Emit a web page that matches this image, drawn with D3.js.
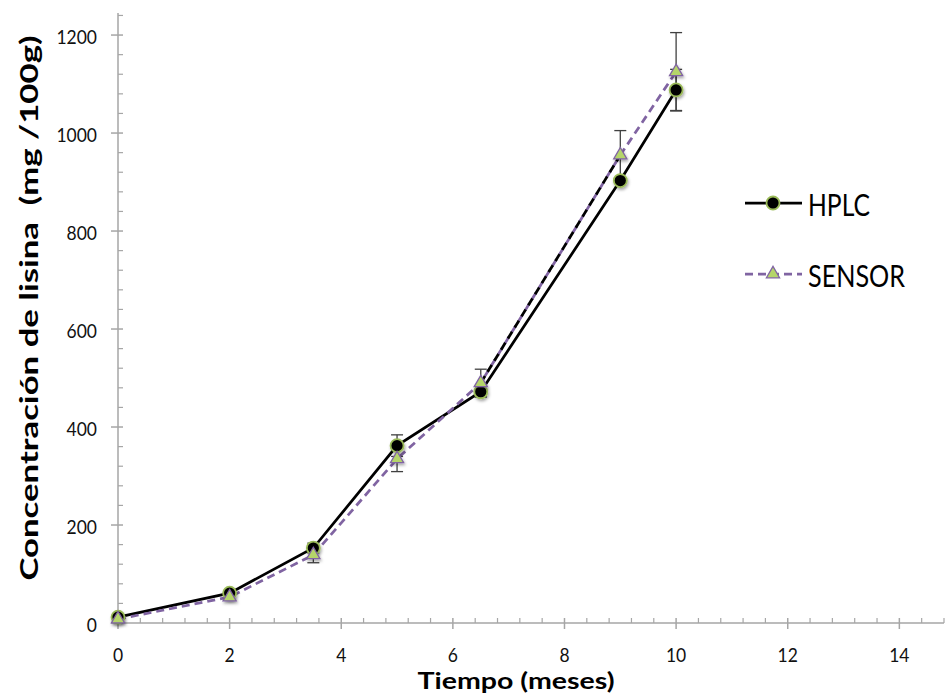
<!DOCTYPE html>
<html>
<head>
<meta charset="utf-8">
<script src="https://cdn.jsdelivr.net/npm/d3@7"></script>
<style>
  body { margin: 0; background: #fff; }
  svg { display: block; }
  text { font-family: Lato, "Open Sans", sans-serif; white-space: pre; }
</style>
</head>
<body>
<svg id="chart" width="945" height="696"></svg>
<script>
// ---- data ----
const months = [0, 2, 3.5, 5, 6.5, 9, 10];
const hplc = [12, 61, 153, 362, 472, 903, 1088];
const hplcErr = [0, 0, 10, 22, 11, 0, 42];
const sensor = [8, 53, 139, 335, 490, 955, 1125];
const sensorErr = [0, 0, 16, 26, 28, 50, 80];
const xTicks = [0, 2, 4, 6, 8, 10, 12, 14];
const yTicks = [0, 200, 400, 600, 800, 1000, 1200];
const seriesNames = ["HPLC", "SENSOR"];
const xTitle = "Tiempo (meses)";
const yTitle = "Concentración de lisina  (mg /100g)";

const svg = d3.select("#chart");
const x = d3.scaleLinear().domain([0, 14.8]).range([118, 944]);
const y = d3.scaleLinear().domain([0, 1245]).range([623, 13]);

const axisColor = "#a6a6a6";
const defs = svg.append("defs");
const f = defs.append("filter").attr("id", "shadow").attr("x", "-50%").attr("y", "-50%").attr("width", "200%").attr("height", "200%");
f.append("feDropShadow").attr("dx", 1).attr("dy", 2).attr("stdDeviation", 1.5).attr("flood-color", "#000").attr("flood-opacity", 0.35);

// ---- axes ----
const xMinor = d3.range(0, 14.81, 0.4).filter(v => Math.abs(v / 2 - Math.round(v / 2)) > 1e-6);
const yMinor = d3.range(0, 1241, 40).filter(v => v % 200 !== 0);

const gx = svg.append("g");
gx.append("line").attr("x1", x(0)).attr("x2", x(14.8)).attr("y1", y(0)).attr("y2", y(0))
  .attr("stroke", axisColor).attr("stroke-width", 1.5);
gx.selectAll(".xmaj").data(xTicks).join("line")
  .attr("x1", d => x(d)).attr("x2", d => x(d)).attr("y1", y(0) - 5).attr("y2", y(0) + 6)
  .attr("stroke", axisColor).attr("stroke-width", 1.5);
gx.selectAll(".xmin").data(xMinor).join("line")
  .attr("x1", d => x(d)).attr("x2", d => x(d)).attr("y1", y(0) - 5).attr("y2", y(0))
  .attr("stroke", axisColor).attr("stroke-width", 1.2);
gx.selectAll(".xl").data(xTicks).join("text")
  .attr("transform", d => `translate(${x(d)},662) scale(1,1.15)`).attr("text-anchor", "middle")
  .attr("font-size", 17.5).attr("fill", "#111").text(d => d);

const gy = svg.append("g");
gy.append("line").attr("x1", x(0)).attr("x2", x(0)).attr("y1", y(0)).attr("y2", y(1245))
  .attr("stroke", axisColor).attr("stroke-width", 1.5);
gy.selectAll(".ymaj").data(yTicks).join("line")
  .attr("x1", x(0) - 7).attr("x2", x(0) + 5).attr("y1", d => y(d)).attr("y2", d => y(d))
  .attr("stroke", axisColor).attr("stroke-width", 1.5);
gy.selectAll(".ymin").data(yMinor).join("line")
  .attr("x1", x(0)).attr("x2", x(0) + 5).attr("y1", d => y(d)).attr("y2", d => y(d))
  .attr("stroke", axisColor).attr("stroke-width", 1.2);
gy.selectAll(".yl").data(yTicks).join("text")
  .attr("transform", d => `translate(97,${y(d) + 9}) scale(1,1.15)`).attr("text-anchor", "end")
  .attr("font-size", 17.5).attr("fill", "#111").text(d => d);

// titles
svg.append("text").attr("x", 516).attr("y", 689).attr("text-anchor", "middle")
  .attr("font-size", 23.5).attr("font-weight", "bold").attr("fill", "#000")
  .attr("textLength", 197).attr("lengthAdjust", "spacingAndGlyphs").text(xTitle);
svg.append("text").attr("transform", "translate(38,308) rotate(-90)").attr("text-anchor", "middle")
  .attr("font-size", 24).attr("font-weight", "bold").attr("fill", "#000")
  .attr("textLength", 545).attr("lengthAdjust", "spacingAndGlyphs").text(yTitle);

// ---- lines ----
const hData = months.map((m, i) => ({ m, v: hplc[i], e: hplcErr[i] }));
const sData = months.map((m, i) => ({ m, v: sensor[i], e: sensorErr[i] }));
const line = d3.line().x(d => x(d.m)).y(d => y(d.v));

svg.append("path").datum(hData).attr("d", line).attr("fill", "none")
  .attr("stroke", "#000").attr("stroke-width", 2.75);
svg.append("path").datum(sData).attr("d", line).attr("fill", "none")
  .attr("stroke", "#8064a2").attr("stroke-width", 2.75).attr("stroke-dasharray", "8,5");
// segment drawn in black dashes in the original
svg.append("path").datum(sData.slice(4, 6)).attr("d", line).attr("fill", "none")
  .attr("stroke", "#000").attr("stroke-width", 2.75).attr("stroke-dasharray", "8,5");

// ---- error bars ----
function errBars(data) {
  const g = svg.append("g").attr("stroke", "#404040").attr("stroke-width", 1.3);
  const dd = data.filter(d => d.e > 0);
  g.selectAll(".v").data(dd).join("line")
    .attr("x1", d => x(d.m)).attr("x2", d => x(d.m)).attr("y1", d => y(d.v - d.e)).attr("y2", d => y(d.v + d.e));
  g.selectAll(".t").data(dd).join("line")
    .attr("x1", d => x(d.m) - 6).attr("x2", d => x(d.m) + 6).attr("y1", d => y(d.v + d.e)).attr("y2", d => y(d.v + d.e));
  g.selectAll(".b").data(dd).join("line")
    .attr("x1", d => x(d.m) - 6).attr("x2", d => x(d.m) + 6).attr("y1", d => y(d.v - d.e)).attr("y2", d => y(d.v - d.e));
}
errBars(hData);
errBars(sData);

// ---- markers ----
svg.append("g").selectAll("circle").data(hData).join("circle")
  .attr("cx", d => x(d.m)).attr("cy", d => y(d.v)).attr("r", 6.5)
  .attr("fill", "#000").attr("stroke", "#9bbb59").attr("stroke-width", 1.8)
  .attr("filter", "url(#shadow)");
const tri = d3.symbol().type(d3.symbolTriangle).size(75);
svg.append("g").selectAll("path").data(sData).join("path")
  .attr("d", tri).attr("transform", d => `translate(${x(d.m)},${y(d.v)})`)
  .attr("fill", "#b5d56a").attr("stroke", "#8064a2").attr("stroke-width", 1.3)
  .attr("filter", "url(#shadow)");

// ---- legend ----
const lg = svg.append("g");
lg.append("line").attr("x1", 745).attr("x2", 802).attr("y1", 203).attr("y2", 203)
  .attr("stroke", "#000").attr("stroke-width", 2.75);
lg.append("circle").attr("cx", 773).attr("cy", 203).attr("r", 6.5)
  .attr("fill", "#000").attr("stroke", "#9bbb59").attr("stroke-width", 1.8);
lg.append("text").attr("transform", "translate(808,216) scale(1,1.2)").attr("font-size", 25)
  .attr("fill", "#000").attr("textLength", 62).attr("lengthAdjust", "spacingAndGlyphs").text(seriesNames[0]);
lg.append("line").attr("x1", 745).attr("x2", 802).attr("y1", 274).attr("y2", 274)
  .attr("stroke", "#8064a2").attr("stroke-width", 2.75).attr("stroke-dasharray", "8,5");
lg.append("path").attr("d", tri).attr("transform", "translate(773,274)")
  .attr("fill", "#b5d56a").attr("stroke", "#8064a2").attr("stroke-width", 1.3);
lg.append("text").attr("transform", "translate(808,287) scale(1,1.2)").attr("font-size", 25)
  .attr("fill", "#000").attr("textLength", 97).attr("lengthAdjust", "spacingAndGlyphs").text(seriesNames[1]);
</script>
</body>
</html>
